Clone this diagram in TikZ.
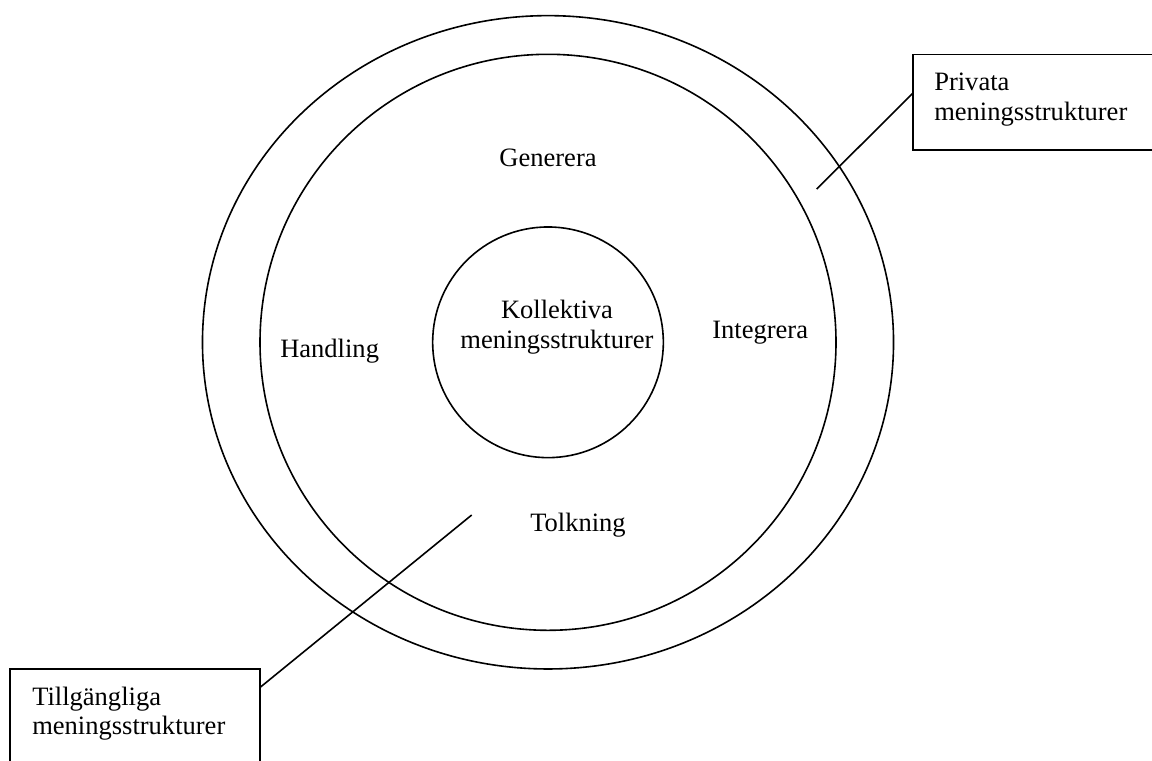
\documentclass[tikz,border=0pt]{standalone}
\usepackage{fontspec}
\setmainfont{Liberation Serif}
\usetikzlibrary{calc,shapes.geometric}
\begin{document}
\begin{tikzpicture}[x=0.75pt,y=-0.75pt,
  ring/.style={draw=black, line width=1.2pt, inner sep=0pt, outer sep=0pt},
  lbl/.style={inner sep=0pt, font=\fontsize{19.9}{22.5}\selectfont},
  callout/.style={draw=black, line width=1.2pt, inner sep=0pt, outer sep=0pt, anchor=north west},
  leader/.style={draw=black, line width=1.2pt}]
\useasboundingbox (0,0) rectangle (1152,760);
\clip (0,0) rectangle (1152,760);
% rings
\node[ring, ellipse, minimum width=518.3pt, minimum height=490pt] (outer) at (548,342.3) {};
\node[ring, circle, minimum size=432pt] (middle) at (548,342.3) {};
\node[ring, circle, minimum size=173pt] (inner) at (548,342.3) {};
% ring labels
\node[lbl, anchor=base] (generera) at (548,166) {Generera};
\node[lbl, anchor=base] (koll1) at (557,318) {Kollektiva};
\node[lbl, anchor=base] (koll2) at (557,348) {meningsstrukturer};
\node[lbl, anchor=base west] (handling) at (280,357) {Handling};
\node[lbl, anchor=base west] (integrera) at (712,338) {Integrera};
\node[lbl, anchor=base west] (tolkning) at (530,531) {Tolkning};
% callout boxes
\node[callout, minimum width=190pt, minimum height=71.8pt] (pbox) at (912.7,54.3) {};
\node[lbl, anchor=base west] (ptext1) at (934,90) {Privata};
\node[lbl, anchor=base west] (ptext2) at (934,120) {meningsstrukturer};
\node[callout, minimum width=187.5pt, minimum height=80pt] (tbox) at (10,669) {};
\node[lbl, anchor=base west] (ttext1) at (32,705) {Tillgängliga};
\node[lbl, anchor=base west] (ttext2) at (32,734) {meningsstrukturer};
% leader lines
\coordinate (ptip) at (816.7,189);
\coordinate (ttip) at (471.7,515);
\draw[leader] ($(pbox.north west)!0.408!(pbox.south west)$) -- (ptip);
\draw[leader] ($(tbox.north east)!0.173!(tbox.south east)$) -- (ttip);
\end{tikzpicture}
\end{document}
